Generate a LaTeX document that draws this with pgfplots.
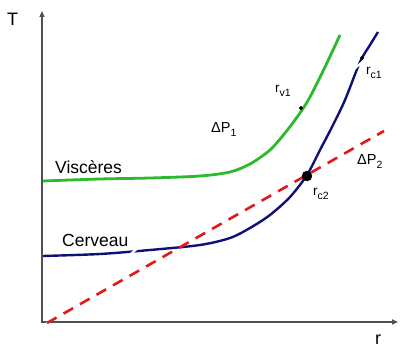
\documentclass[border=0pt]{standalone}
\usepackage{pgfplots}
\pgfplotsset{compat=1.18}
\usepackage{fontspec}
\setmainfont{Liberation Sans}
\usetikzlibrary{arrows.meta}
\definecolor{cgreen}{RGB}{45,185,45}
\definecolor{cnavy}{RGB}{15,15,120}
\definecolor{cred}{RGB}{225,25,25}
\definecolor{caxis}{RGB}{80,80,80}
\newcommand{\sub}[1]{\raisebox{-0.45ex}{\fontsize{10.5}{11}\selectfont #1}}
\begin{document}
\begin{tikzpicture}
\begin{axis}[
  width=410pt, height=353pt, scale only axis,
  xmin=0, xmax=410, ymin=0, ymax=353,
  hide axis, clip=false,
]
\path (axis cs:0,0) rectangle (axis cs:410,353);
% axes
\draw[caxis, line width=1.6pt, -{Triangle[length=6pt,width=5pt]}] (axis cs:42,30) -- (axis cs:42,342);
\draw[caxis, line width=1.6pt, -{Triangle[length=6pt,width=5pt]}] (axis cs:41,31) -- (axis cs:398,31);
% navy (Cerveau)
\addplot[cnavy, line width=2.4pt, smooth, tension=0.5] coordinates {
 (43,97) (100,99) (150,103) (200,108) (230,115) (250,125) (270,138)
 (290,156) (307,178) (320,203) (332,226) (345,253) (360,291) (370,308) (378,321)};
% white tangent line
\addplot[white, line width=2.2pt] coordinates {(45,28) (395,318)};
% green (Visceres)
\addplot[cgreen, line width=2.8pt, smooth, tension=0.5] coordinates {
 (43,172) (100,174) (150,175) (200,177) (230,181) (250,189) (270,203)
 (285,220) (300,240) (310,256) (325,286) (340,318)};
% red dashed
\addplot[cred, line width=2.6pt, dash pattern=on 11pt off 8pt] coordinates {(47,30) (384,222)};
% points
\addplot[only marks, mark=*, mark size=5pt, black] coordinates {(307,177)};
\addplot[only marks, mark=*, mark size=1.8pt, black] coordinates {(301,245) (362,295)};
% labels
\node[anchor=base west, inner sep=0, font=\fontsize{18}{20}\selectfont] at (axis cs:7,327) {T};
\node[anchor=base west, inner sep=0, font=\fontsize{18}{20}\selectfont] at (axis cs:375,8) {r};
\node[anchor=base west, inner sep=0, font=\fontsize{17.5}{20}\selectfont] at (axis cs:55,179) {Viscères};
\node[anchor=base west, inner sep=0, font=\fontsize{17.5}{20}\selectfont] at (axis cs:62,106) {Cerveau};
\node[anchor=base west, inner sep=0, font=\fontsize{14.5}{16}\selectfont] at (axis cs:211,220) {ΔP\sub{1}};
\node[anchor=base west, inner sep=0, font=\fontsize{14.5}{16}\selectfont] at (axis cs:357,188) {ΔP\sub{2}};
\node[anchor=base west, inner sep=0, font=\fontsize{13.5}{15}\selectfont] at (axis cs:275,260) {r\sub{v1}};
\node[anchor=base west, inner sep=0, font=\fontsize{13.5}{15}\selectfont] at (axis cs:366,278) {r\sub{c1}};
\node[anchor=base west, inner sep=0, font=\fontsize{13.5}{15}\selectfont] at (axis cs:313,157) {r\sub{c2}};
\end{axis}
\end{tikzpicture}
\end{document}
